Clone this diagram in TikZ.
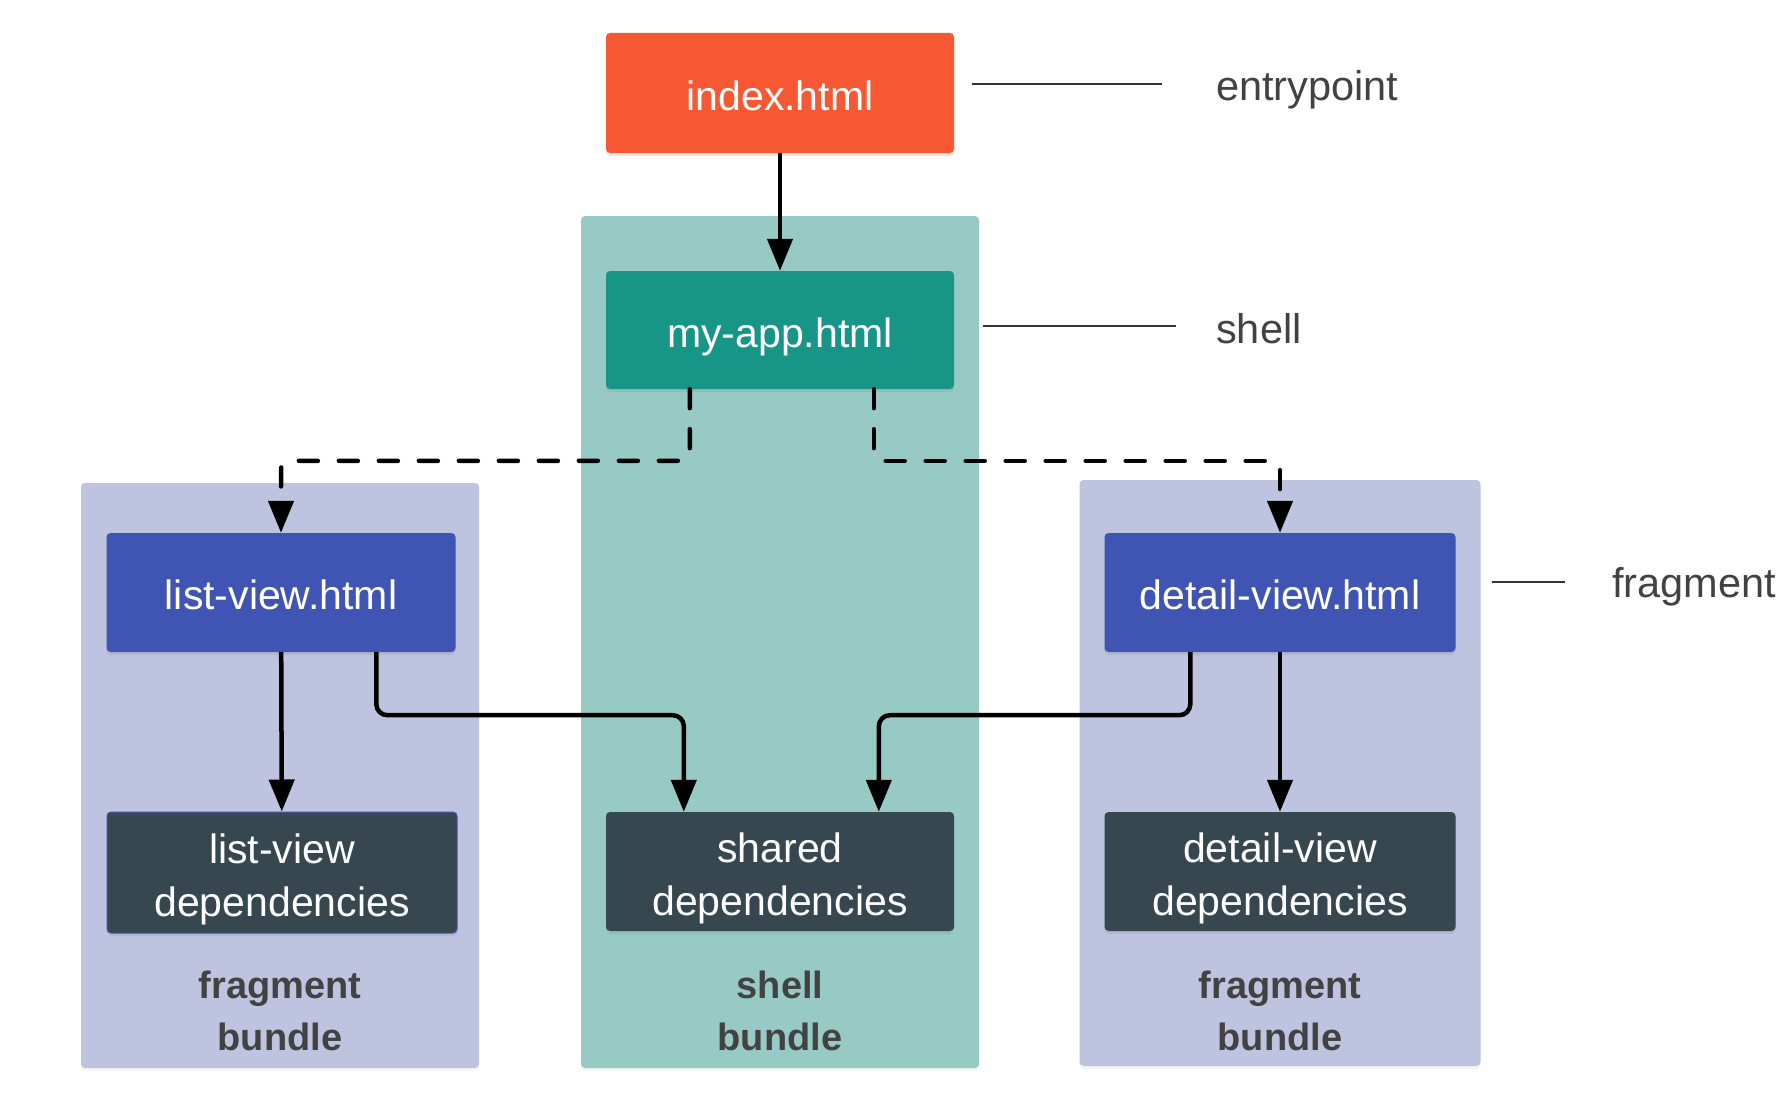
\documentclass[tikz,border=0pt]{standalone}
\usepackage{fontspec}
\setmainfont{Liberation Sans}
\usetikzlibrary{arrows.meta,calc,shadows}
\definecolor{cOrange}{HTML}{F55832}
\definecolor{cTeal}{HTML}{179688}
\definecolor{cTealBg}{HTML}{98CAC5}
\definecolor{cIndigo}{HTML}{3F54B3}
\definecolor{cIndigoBg}{HTML}{BEC4E0}
\definecolor{cDark}{HTML}{37474F}
\definecolor{cText}{HTML}{424242}
\definecolor{cLine}{HTML}{333333}
\tikzset{
  card/.style={rectangle, rounded corners=4pt, text=white, align=center,
    font=\fontsize{41}{53}\selectfont, inner sep=0pt,
    drop shadow={opacity=0.18, shadow xshift=0pt, shadow yshift=-3pt}},
  onecard/.style={card, text height=34pt, text depth=0pt},
  twocard/.style={card, text height=97pt},
  panel/.style={rectangle, rounded corners=4pt, inner sep=0pt,
    drop shadow={opacity=0.08, shadow xshift=0pt, shadow yshift=-3pt}},
  conn/.style={line width=4.5pt, draw=black, -{Triangle[width=25pt,length=32pt]}},
  dashconn/.style={conn, line cap=round, dash pattern=on 19pt off 21pt},
  tagline/.style={line width=2.5pt, draw=cLine},
  tag/.style={text=cText, font=\fontsize{41.5}{50}\selectfont, inner sep=0pt},
  bundlelbl/.style={text=cText, font=\bfseries\fontsize{38}{52}\selectfont, align=center, inner sep=0pt}
}
\begin{document}
\begin{tikzpicture}[x=1pt,y=-1pt]
\useasboundingbox[fill=white] (0,0) rectangle (1790,1108);
% background panels
\node[panel, fill=cTealBg, minimum width=398pt, minimum height=852pt] (shellbg) at (780,642) {};
\node[panel, fill=cIndigoBg, minimum width=398pt, minimum height=585pt] (leftbg) at (280,775.5) {};
\node[panel, fill=cIndigoBg, minimum width=401pt, minimum height=586pt] (rightbg) at (1280,773) {};
% cards
\node[onecard, fill=cOrange, minimum width=348pt, minimum height=120pt] (index) at (780,93) {index.html};
\node[onecard, fill=cTeal, minimum width=348pt, minimum height=118pt] (myapp) at (780,330) {my-app.html};
\node[onecard, fill=cIndigo, minimum width=349pt, minimum height=119pt] (listview) at (281,592.5) {list-view.html};
\node[onecard, fill=cIndigo, minimum width=351pt, minimum height=119pt] (detailview) at (1280,592.5) {detail-view.html};
\node[twocard, fill=cDark, draw=cIndigo, line width=1pt, minimum width=350pt, minimum height=121pt] (listdeps) at (282,872.5) {list-view\\dependencies};
\node[twocard, fill=cDark, minimum width=348pt, minimum height=119pt] (shareddeps) at (780,871.5) {shared\\dependencies};
\node[twocard, fill=cDark, minimum width=351pt, minimum height=119pt] (detaildeps) at (1280,871.5) {detail-view\\dependencies};
% bundle labels
\node[bundlelbl] (lbundle) at (280,1011) {fragment\\bundle};
\node[bundlelbl] (sbundle) at (780,1011) {shell\\bundle};
\node[bundlelbl] (rbundle) at (1280,1011) {fragment\\bundle};
% connectors
\draw[conn] (index) -- (myapp);
\draw[dashconn, rounded corners=8pt] ($(myapp.south west)+(84,0)$) |- ($(listview.north)+(0,-72)$) -- (listview.north);
\draw[dashconn, rounded corners=8pt] ($(myapp.south west)+(268,0)$) |- ($(detailview.north)+(0,-72)$) -- (detailview.north);
\draw[conn] (listview) -- (listdeps);
\draw[conn] (detailview) -- (detaildeps);
\draw[conn, rounded corners=11pt] ($(listview.south west)+(270,0)$) -- ++(0,63) -| ($(shareddeps.north west)+(78,0)$);
\draw[conn, rounded corners=11pt] ($(detailview.south west)+(86,0)$) -- ++(0,63) -| ($(shareddeps.north west)+(273,0)$);
% side tags
\node[tag, anchor=base west] (tentry) at (1216,100) {entrypoint};
\node[tag, anchor=base west] (tshell) at (1216,343) {shell};
\node[tag, anchor=base west] (tfrag) at (1612,597) {fragment};
\draw[tagline] ($(index.north east)+(18,51)$) -- ++(190,0);
\draw[tagline] ($(myapp.north east)+(29,55)$) -- ++(193,0);
\draw[tagline] ($(rightbg.north east)+(11,102)$) -- ++(73,0);
\end{tikzpicture}
\end{document}
